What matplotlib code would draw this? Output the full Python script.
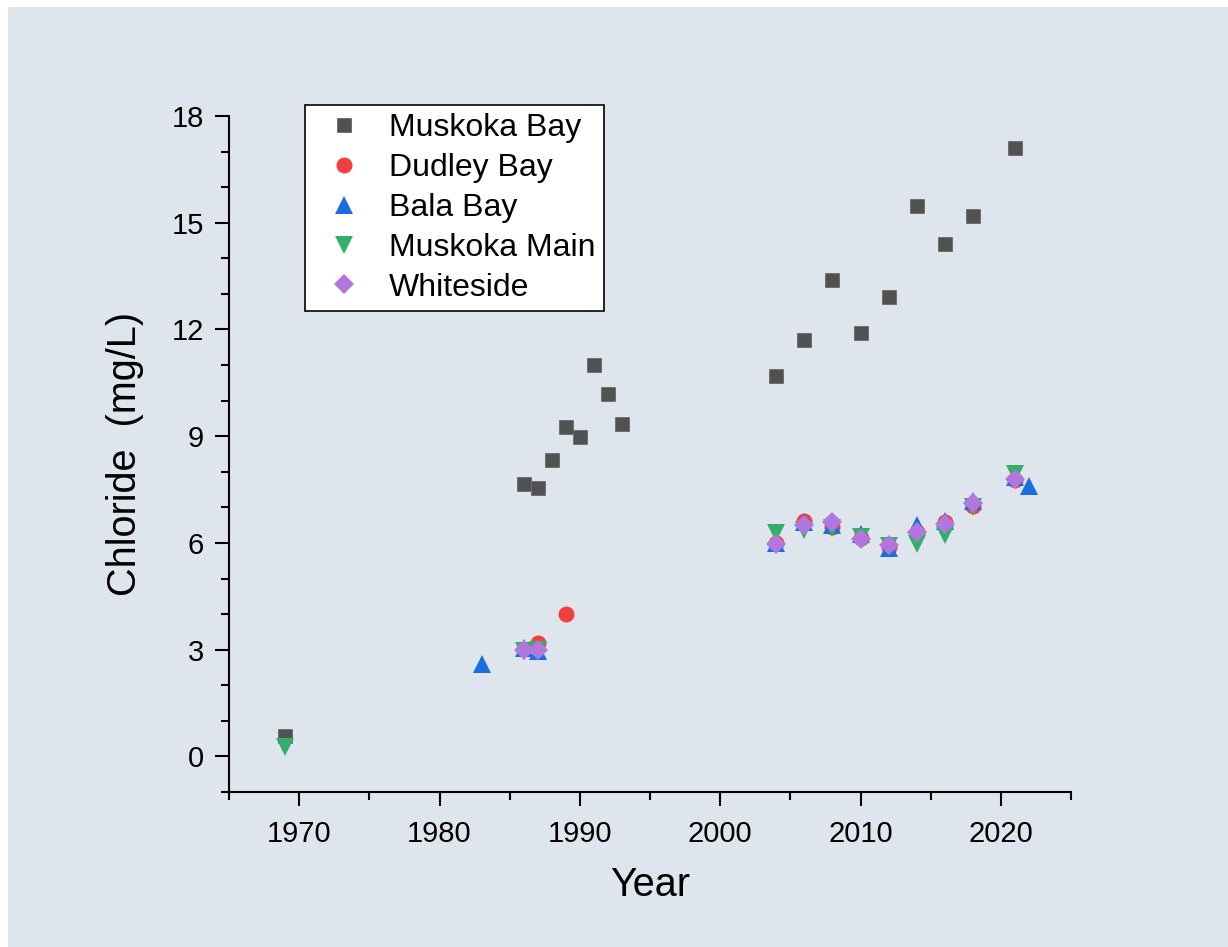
import numpy as np
import matplotlib.pyplot as plt
from matplotlib.patches import Rectangle

# chloride (mg/L) by year
mb_year = [1969, 1986, 1987, 1988, 1989, 1990, 1991, 1992, 1993,
           2004, 2006, 2008, 2010, 2012, 2014, 2016, 2018, 2021]
mb_cl = [0.56, 7.65, 7.54, 8.32, 9.25, 8.99, 11.0, 10.18, 9.33,
         10.7, 11.71, 13.39, 11.9, 12.9, 15.48, 14.4, 15.19, 17.1]

db_year = [1987, 1989, 2004, 2006, 2008, 2010, 2012, 2014, 2016, 2018, 2021]
db_cl = [3.2, 4.0, 6.0, 6.63, 6.45, 6.15, 5.9, 6.3, 6.6, 7.05, 7.78]

bb_year = [1983, 1986, 1987, 2004, 2006, 2008, 2010, 2012, 2014, 2016, 2018, 2021, 2022]
bb_cl = [2.6, 3.05, 2.95, 6.0, 6.6, 6.5, 6.24, 5.86, 6.5, 6.62, 7.17, 7.85, 7.6]

mm_year = [1969, 1986, 1987, 2004, 2006, 2008, 2010, 2012, 2014, 2016, 2018, 2021]
mm_cl = [0.27, 2.95, 3.0, 6.28, 6.36, 6.42, 6.17, 5.91, 5.96, 6.21, 7.01, 7.93]

ws_year = [1986, 1987, 2004, 2006, 2008, 2010, 2012, 2014, 2016, 2018, 2021]
ws_cl = [3.0, 3.0, 5.98, 6.5, 6.59, 6.12, 5.93, 6.31, 6.52, 7.12, 7.81]

plt.rcParams.update({
    "font.family": ["Liberation Sans", "DejaVu Sans"],
    "font.size": 21})

bg = '#dee5ec'
W, H = 1228, 947
fig = plt.figure(figsize=(W/100, H/100), dpi=100, facecolor='white')
fig.patches.append(Rectangle((8/W, 0), 1 - 8/W, 1 - 7/H, transform=fig.transFigure,
                             facecolor=bg, edgecolor='none', zorder=-10))

ax = fig.add_axes([229/W, 1 - 792/H, (1071-229)/W, (792-116)/H])
ax.set_facecolor(bg)

ax.plot(mb_year, mb_cl, 's', ms=10.3, color='#515151', mec='#6a6a6a', mew=0.6, label='Muskoka Bay')
ax.plot(db_year, db_cl, 'o', ms=11.5, color='#f14040', mew=0, label='Dudley Bay')
ax.plot(bb_year, bb_cl, '^', ms=13, color='#1a6fdf', mew=0, label='Bala Bay')
ax.plot(mm_year, mm_cl, 'v', ms=13, color='#37ad6b', mew=0, label='Muskoka Main')
ax.plot(ws_year, ws_cl, 'D', ms=10.2, color='#b177de', mew=0, label='Whiteside')

ax.set_xlim(1965, 2025)
ax.set_ylim(-1, 18)
ax.set_xticks([1970, 1980, 1990, 2000, 2010, 2020])
ax.set_xticks(np.arange(1965, 2026, 5), minor=True)
ax.set_yticks([0, 3, 6, 9, 12, 15, 18])
ax.set_yticks(np.arange(-1, 19, 1), minor=True)

for s in ['top', 'right']:
    ax.spines[s].set_visible(False)
for s in ['left', 'bottom']:
    ax.spines[s].set_linewidth(1.5)
ax.tick_params(which='major', length=10, width=1.5, labelsize=21)
ax.tick_params(which='minor', length=5.5, width=1.5)
ax.tick_params(axis='x', which='major', pad=10)
ax.tick_params(axis='y', which='major', pad=8)

ax.set_xlabel('Year', fontsize=28.5, labelpad=13)
ax.set_ylabel('Chloride  (mg/L)', fontsize=28.5, labelpad=20)

leg = ax.legend(loc='upper left', bbox_to_anchor=(305/W, 1 - 105/H),
                bbox_transform=fig.transFigure, fontsize=23, frameon=True,
                fancybox=False, framealpha=1, facecolor='white', edgecolor='black',
                borderaxespad=0, borderpad=0.25, labelspacing=0.31,
                handlelength=1.95, handletextpad=0.44)
leg.get_frame().set_linewidth(1.2)

plt.savefig('out.png', dpi=100, facecolor=fig.get_facecolor())
